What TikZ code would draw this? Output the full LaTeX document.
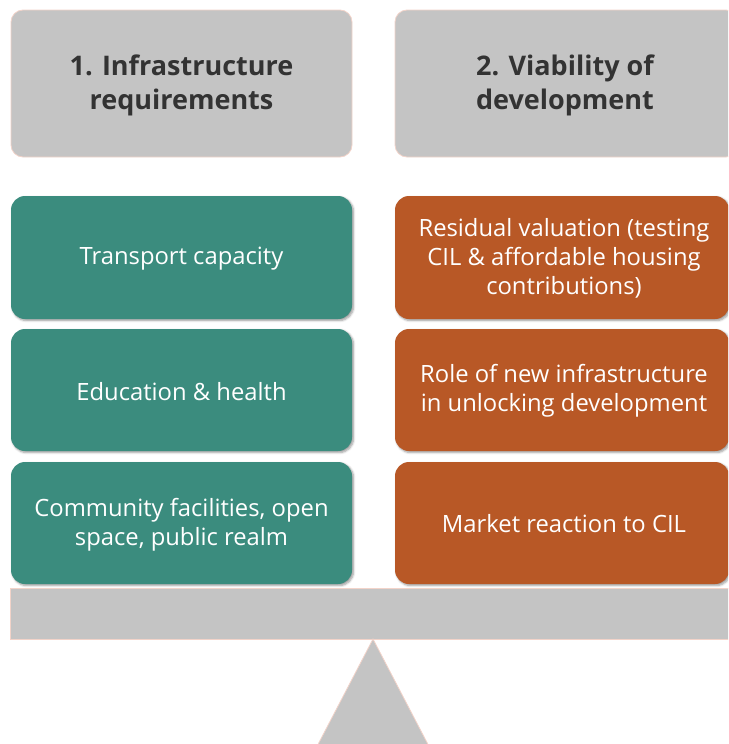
\documentclass[tikz,border=0pt]{standalone}
\usepackage{fontspec}
\setmainfont{Open Sans}
\usetikzlibrary{shadows.blur}
\definecolor{panelgray}{HTML}{C4C4C4}
\definecolor{edgepink}{HTML}{F2D3C9}
\definecolor{headtext}{HTML}{333333}
\definecolor{teal}{HTML}{3B8C7E}
\definecolor{rust}{HTML}{B85826}
\begin{document}
\begin{tikzpicture}[x=1pt,y=-1pt,
  header/.style={draw=edgepink, line width=0.8pt, fill=panelgray, rounded corners=12pt},
  headtxt/.style={text=headtext, font=\fontsize{27}{34}\selectfont\bfseries, align=center},
  card/.style={rounded corners=14pt, blur shadow={shadow xshift=1.5pt, shadow yshift=-1.5pt, shadow blur steps=5, shadow blur extra rounding=1pt, shadow opacity=40}},
  cardtxt/.style={text=white, font=\fontsize{23.8}{29}\selectfont, align=center}]
\useasboundingbox (0,0) rectangle (728,744);
\begin{scope}
\clip (0,0) rectangle (728,744);
% column headings
\draw[header] (11,10) rectangle (352,157);
\node[headtxt] (h1) at (181.5,85) {1. Infrastructure\\requirements};
\draw[header] (395,10) rectangle (738,157);
\node[headtxt] (h2) at (565,85) {2. Viability of\\development};
% left column: infrastructure items
\fill[card, teal] (11,196) rectangle (352,319);
\node[cardtxt] (l1) at (181.5,259) {Transport capacity};
\fill[card, teal] (11,329) rectangle (352,451);
\node[cardtxt] (l2) at (181.5,391.5) {Education \& health};
\fill[card, teal] (11,462) rectangle (352,584);
\node[cardtxt] (l3) at (181.5,524.5) {Community facilities, open\\space, public realm};
% right column: viability items
\fill[card, rust] (395,196) rectangle (729,319);
\node[cardtxt] (r1) at (564,258.5) {Residual valuation (testing\\CIL \& affordable housing\\contributions)};
\fill[card, rust] (395,329) rectangle (729,451);
\node[cardtxt] (r2) at (564,391) {Role of new infrastructure\\in unlocking development};
\fill[card, rust] (395,462) rectangle (729,584);
\node[cardtxt] (r3) at (564,524) {Market reaction to CIL};
% balance beam and fulcrum
\draw[draw=edgepink, line width=0.8pt, fill=panelgray] (10,588) rectangle (740,639);
\draw[draw=edgepink, line width=0.8pt, fill=panelgray] (373,639) -- (457,800) -- (289,800) -- cycle;
\end{scope}
\end{tikzpicture}
\end{document}
